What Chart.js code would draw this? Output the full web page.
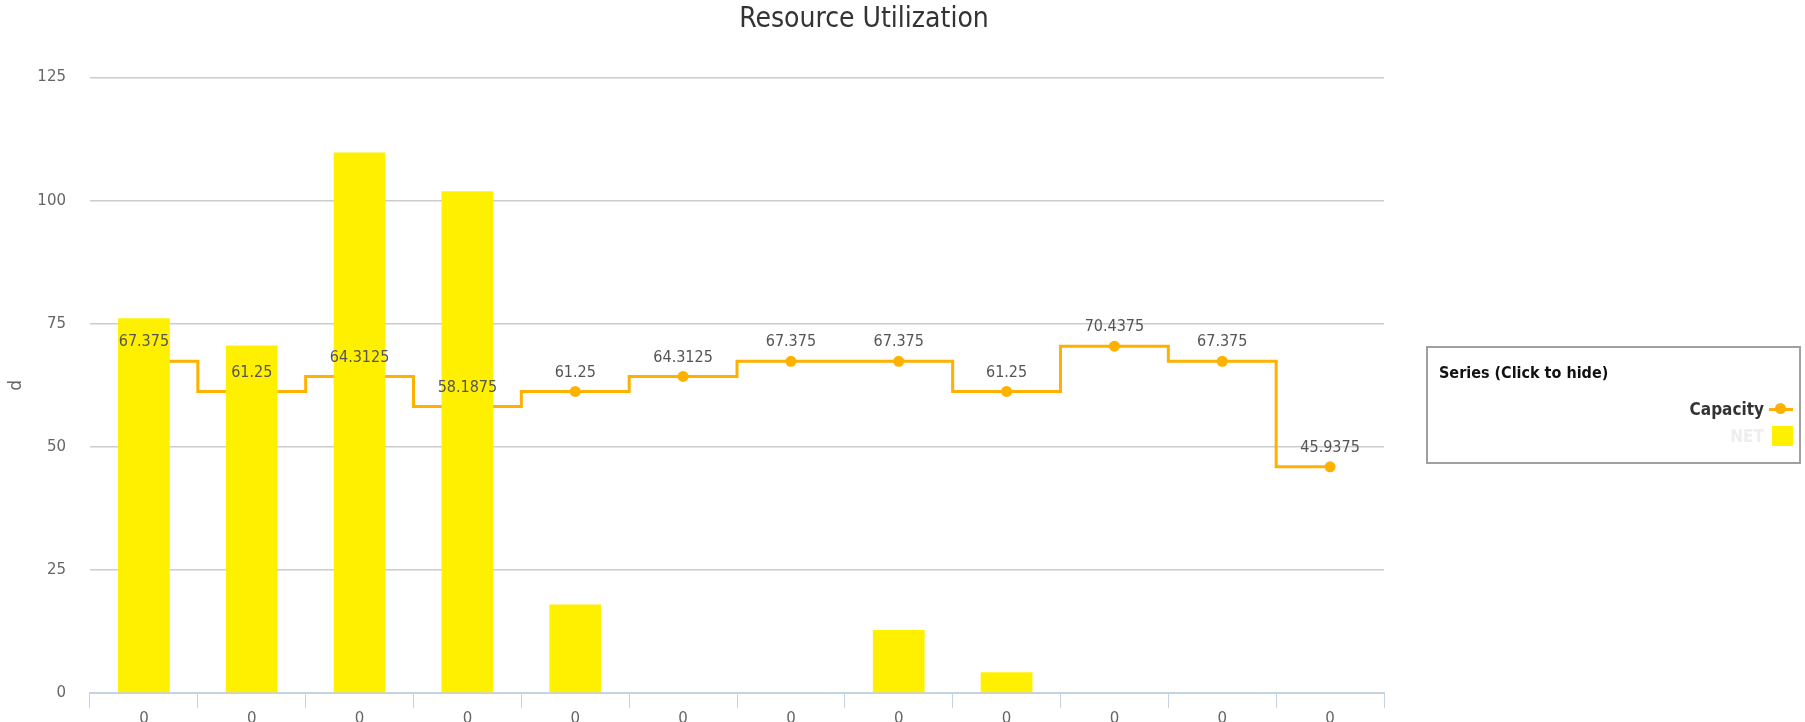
<!DOCTYPE html>
<html>
<head>
<meta charset="utf-8">
<script src="https://cdn.jsdelivr.net/npm/chart.js@4/dist/chart.umd.min.js"></script>
<style>
	html, body { margin: 0; padding: 0; background: #fff; overflow: hidden; }
	#wrap { position: relative; width: 1805px; height: 722px; }
	#chart { position: absolute; left: 0; top: 0; }
	#legend {
		position: absolute; left: 1426px; top: 346px; width: 371px; height: 114px;
		border: 2px solid #a0a0a0; font-family: "DejaVu Sans Condensed", "DejaVu Sans", sans-serif;
	}
	#legend .ttl { position: absolute; left: 11px; top: 15px; font-size: 16px; font-weight: bold; color: #111; }
	#legend .item { position: absolute; right: 6px; display: flex; align-items: center; font-size: 17px; font-weight: bold; color: #333; }
	#legend .sym { margin-left: 5px; width: 24px; height: 20px; position: relative; }
</style>
</head>
<body>
<div id="wrap">
	<canvas id="chart" width="1728" height="760"></canvas>
	<div id="legend"></div>
</div>
<script>
/* global Chart */
// datos
const categories = ['0', '0', '0', '0', '0', '0', '0', '0', '0', '0', '0', '0'];
const capacity = [67.375, 61.25, 64.3125, 58.1875, 61.25, 64.3125, 67.375, 67.375, 61.25, 70.4375, 67.375, 45.9375];
const net = [76.1, 70.6, 109.8, 101.9, 18.0, 0, 0, 12.8, 4.2, 0, 0, 0];
const yTicks = [0, 25, 50, 75, 100, 125];

const orange = '#ffb100';
const yellow = '#fff000';

// etiquetas sobre los puntos de la línea
const pointLabels = {
	id: 'pointLabels',
	afterDatasetsDraw(chart) {
		const ctx = chart.ctx;
		const meta = chart.getDatasetMeta(0);
		ctx.save();
		ctx.font = '16px "DejaVu Sans Condensed", "DejaVu Sans", sans-serif';
		ctx.fillStyle = '#555';
		ctx.textAlign = 'center';
		ctx.textBaseline = 'middle';
		meta.data.forEach((pt, i) => {
			ctx.fillText(String(capacity[i]), pt.x, pt.y - 19);
		});
		ctx.restore();
	}
};

const canvas = document.getElementById('chart');

const graph = new Chart(canvas, {
	type: 'bar',
	data: {
		labels: categories,
		datasets: [
			{
				type: 'line',
				label: 'Capacity',
				data: capacity,
				stepped: 'middle',
				borderColor: orange,
				backgroundColor: orange,
				borderWidth: 3,
				pointRadius: 5.5,
				pointBackgroundColor: orange,
				pointBorderWidth: 0,
				order: 1
			},
			{
				label: 'NET',
				data: net,
				backgroundColor: yellow,
				barPercentage: 0.6,
				categoryPercentage: 0.8,
				order: 0
			}
		]
	},
	options: {
		responsive: false,
		animation: false,
		layout: { padding: { left: 0, right: 0, top: 0, bottom: 30 } },
		plugins: {
			legend: { display: false },
			tooltip: { enabled: false },
			title: {
				display: true,
				text: 'Resource Utilization',
				color: '#333',
				font: { family: '"DejaVu Sans Condensed", "DejaVu Sans", sans-serif', size: 28, weight: 'normal' },
				padding: { top: 3, bottom: 41 }
			}
		},
		scales: {
			x: {
				offset: true,
				grid: { display: true, drawOnChartArea: false, drawTicks: true, tickLength: 15, color: '#c4d2e2', offset: true },
				border: { display: true, color: '#c4d2e2', width: 2 },
				ticks: { color: '#666', padding: 2, font: { family: '"DejaVu Sans", sans-serif', size: 15 } }
			},
			y: {
				min: 0,
				max: 125,
				afterBuildTicks: (scale) => { scale.ticks = yTicks.map((v) => ({ value: v })); },
				afterFit: (scale) => { scale.width = 90; },
				grid: { color: '#cccccc', drawTicks: false, lineWidth: 1.5 },
				border: { display: false },
				ticks: { color: '#666', padding: 24, font: { family: '"DejaVu Sans", sans-serif', size: 15 } },
				title: { display: true, text: 'd', color: '#666', padding: { top: 6, bottom: 0 }, font: { family: '"DejaVu Sans", sans-serif', size: 17 } }
			},
			// espacio a la derecha para la leyenda
			side: {
				position: 'right',
				display: true,
				afterFit: (scale) => { scale.width = 344; },
				grid: { display: false },
				border: { display: false },
				ticks: { display: false }
			}
		}
	},
	plugins: [pointLabels]
});

// leyenda
const legend = document.getElementById('legend');
legend.innerHTML = '<div class="ttl">Series (Click to hide)</div>';
graph.data.datasets.forEach((ds, i) => {
	const item = document.createElement('div');
	item.className = 'item';
	item.style.top = (i === 0 ? 51 : 78) + 'px';
	const txt = document.createElement('span');
	txt.textContent = ds.label;
	if (ds.type !== 'line') txt.style.color = '#eeeeee';
	const sym = document.createElement('span');
	sym.className = 'sym';
	if (ds.type === 'line') {
		sym.innerHTML = '<span style="position:absolute;left:0;top:9px;width:24px;height:2.5px;background:' + orange + '"></span>' +
			'<span style="position:absolute;left:6px;top:4px;width:11px;height:11px;border-radius:50%;background:' + orange + '"></span>';
	} else {
		sym.innerHTML = '<span style="position:absolute;left:3px;top:0;width:21px;height:20px;background:' + yellow + '"></span>';
	}
	item.appendChild(txt);
	item.appendChild(sym);
	legend.appendChild(item);
});
</script>
</body>
</html>
